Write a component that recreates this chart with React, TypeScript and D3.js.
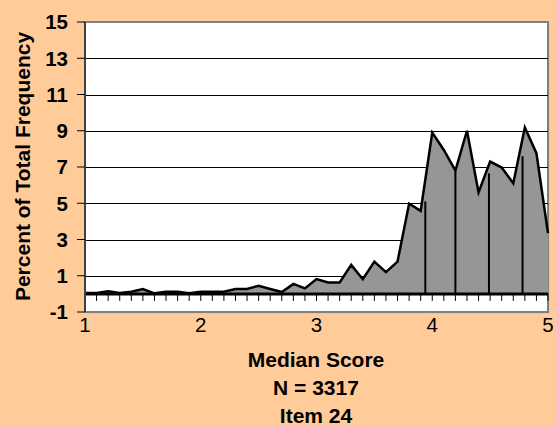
import React from "react";
import * as d3 from "d3";

const xValues = [1.0,1.1,1.2,1.3,1.4,1.5,1.6,1.7,1.8,1.9,2.0,2.1,2.2,2.3,2.4,2.5,2.6,2.7,2.8,2.9,3.0,3.1,3.2,3.3,3.4,3.5,3.6,3.7,3.8,3.9,4.0,4.1,4.2,4.3,4.4,4.5,4.6,4.7,4.8,4.9,5.0];
const percents = [0.05,0.05,0.15,0.05,0.12,0.27,0.03,0.12,0.12,0.03,0.12,0.12,0.12,0.27,0.27,0.45,0.27,0.1,0.55,0.3,0.82,0.63,0.63,1.6,0.81,1.78,1.2,1.78,4.97,4.58,8.9,7.94,6.8,9.0,5.6,7.3,6.97,6.1,9.18,7.76,3.35];
const dropX = [3.94, 4.2, 4.49, 4.78];
const dropTop = [5.1, 6.75, 6.65, 7.6];
const yTicks = [-1,1,3,5,7,9,11,13,15];
const xTicks = [1,2,3,4,5];
const titleLines = ["Median Score", "N = 3317", "Item 24"];
const yTitle = "Percent of Total Frequency";

export default function App() {
  const W = 556, H = 425;
  const left = 85, right = 548, top = 22, bottom = 312;
  const x = d3.scaleLinear().domain([1, 5]).range([left, right]);
  const y = d3.scaleLinear().domain([-1, 15]).range([bottom, top]);
  const data = xValues.map((v, i) => [v, percents[i]] as [number, number]);
  const area = d3.area<[number, number]>().x(d => x(d[0])).y0(y(0)).y1(d => y(d[1]));
  const line = d3.line<[number, number]>().x(d => x(d[0])).y(d => y(d[1]));
  const font = "Arial, 'Liberation Sans', sans-serif";
  return (
    <svg width={W} height={H} style={{ position: "absolute", left: 0, top: 0 }} fontFamily={font}>
      <rect x={0} y={0} width={W} height={H} fill="#FFCC99" />
      <rect x={left + 2} y={top + 2} width={right - left} height={bottom - top} fill="#C8C8C8" opacity={0.6} />
      <rect x={left} y={top} width={right - left} height={bottom - top} fill="#FFFFFF" stroke="#808080" strokeWidth={2} />
      {yTicks.filter(t => t > -1 && t < 15).map(t => (
        <line key={t} x1={left} x2={right} y1={Math.round(y(t)) + 0.5} y2={Math.round(y(t)) + 0.5} stroke="#000" strokeWidth={1} />
      ))}
      <path d={area(data) || ""} fill="#969696" />
      {dropX.map((dx, i) => (
        <line key={i} x1={x(dx)} x2={x(dx)} y1={y(0)} y2={y(dropTop[i])} stroke="#000" strokeWidth={2} />
      ))}
      <path d={line(data) || ""} fill="none" stroke="#000" strokeWidth={2.5} strokeLinejoin="miter" />
      <line x1={left} x2={right} y1={y(0)} y2={y(0)} stroke="#000" strokeWidth={3} />
      {xValues.map((v, i) => (
        <line key={i} x1={x(v)} x2={x(v)} y1={y(0)} y2={y(0) + 7} stroke="#000" strokeWidth={1} />
      ))}
      <line x1={left} x2={left} y1={top} y2={bottom} stroke="#404040" strokeWidth={2} />
      {yTicks.map(t => (
        <g key={t}>
          <line x1={left - 8} x2={left} y1={y(t)} y2={y(t)} stroke="#000" strokeWidth={1} />
          <text x={68} y={y(t)} dy="0.36em" textAnchor="end" fontSize={20.5} fontWeight="bold" fill="#000">{t}</text>
        </g>
      ))}
      {xTicks.map(t => (
        <text key={t} x={x(t)} y={331.5} textAnchor="middle" fontSize={20.5} fill="#000">{t}</text>
      ))}
      <text transform={`translate(29.5,${(top + bottom) / 2 - 0.5}) rotate(-90)`} textAnchor="middle" fontSize={21} fontWeight="bold" fill="#000">{yTitle}</text>
      {titleLines.map((s, i) => (
        <text key={i} x={316} y={366.5 + i * 28} textAnchor="middle" fontSize={21} fontWeight="bold" fill="#000">{s}</text>
      ))}
    </svg>
  );
}
